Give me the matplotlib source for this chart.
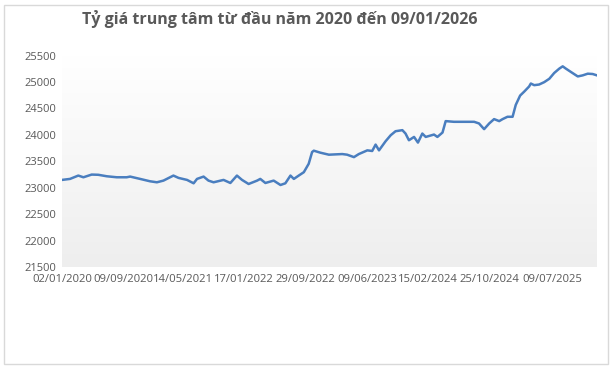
import matplotlib
matplotlib.use("Agg")
import matplotlib.pyplot as plt
from matplotlib.patches import Rectangle
from matplotlib.colors import LinearSegmentedColormap
import numpy as np
import pandas as pd

plt.rcParams['font.family'] = ['Open Sans', 'DejaVu Sans']

title = "Tỷ giá trung tâm từ đầu năm 2020 đến 09/01/2026"

dates = [
    "2020-01-02", "2020-02-04", "2020-03-09", "2020-03-30", "2020-05-03", "2020-05-30",
    "2020-07-04", "2020-08-14", "2020-09-24", "2020-10-08", "2020-11-18", "2020-12-29",
    "2021-01-26", "2021-02-22", "2021-04-04", "2021-04-25", "2021-05-30", "2021-06-26",
    "2021-07-10", "2021-08-06", "2021-08-26", "2021-09-16", "2021-10-27", "2021-11-24",
    "2021-12-21", "2022-01-11", "2022-02-07", "2022-03-14", "2022-03-27", "2022-04-17",
    "2022-05-21", "2022-06-18", "2022-07-08", "2022-07-29", "2022-08-12", "2022-09-01",
    "2022-09-22", "2022-10-12", "2022-10-26", "2022-11-02", "2022-11-29", "2023-01-03",
    "2023-02-27", "2023-03-19", "2023-04-16", "2023-05-06", "2023-06-10", "2023-06-30",
    "2023-07-14", "2023-07-28", "2023-08-24", "2023-09-14", "2023-10-04", "2023-11-01",
    "2023-11-14", "2023-11-28", "2023-12-19", "2024-01-04", "2024-01-22", "2024-02-05",
    "2024-03-10", "2024-03-24", "2024-04-14", "2024-04-27", "2024-05-31", "2024-07-12",
    "2024-08-22", "2024-09-11", "2024-10-02", "2024-10-23", "2024-11-12", "2024-12-03",
    "2024-12-17", "2025-01-06", "2025-01-27", "2025-02-09", "2025-02-27", "2025-03-16",
    "2025-04-05", "2025-04-12", "2025-04-26", "2025-05-16", "2025-06-06", "2025-06-27",
    "2025-07-17", "2025-08-07", "2025-08-21", "2025-09-03", "2025-09-24", "2025-10-22",
    "2025-11-11", "2025-12-02", "2025-12-22", "2026-01-09",
]

rates = [
    23147, 23166, 23229, 23197, 23248, 23244,
    23216, 23197, 23197, 23210, 23166, 23121,
    23102, 23134, 23229, 23185, 23147, 23083,
    23166, 23210, 23134, 23102, 23147, 23089,
    23229, 23147, 23070, 23134, 23166, 23089,
    23134, 23051, 23083, 23229, 23166, 23229,
    23293, 23452, 23674, 23700, 23662, 23624,
    23636, 23624, 23578, 23636, 23706, 23694,
    23815, 23706, 23878, 23992, 24068, 24088,
    24024, 23897, 23960, 23853, 24024, 23960,
    24005, 23960, 24043, 24259, 24246, 24246,
    24246, 24215, 24107, 24215, 24297, 24259,
    24297, 24341, 24341, 24565, 24742, 24818,
    24914, 24970, 24939, 24951, 24996, 25060,
    25169, 25252, 25295, 25252, 25188, 25104,
    25124, 25156, 25150, 25124,
]

tick_dates = ["2020-01-02", "2020-09-09", "2021-05-14", "2022-01-17", "2022-09-29",
              "2023-06-09", "2024-02-15", "2024-10-25", "2025-07-09"]
tick_labels = ["02/01/2020", "09/09/2020", "14/05/2021", "17/01/2022", "29/09/2022",
               "09/06/2023", "15/02/2024", "25/10/2024", "09/07/2025"]
y_ticks = [21500, 22000, 22500, 23000, 23500, 24000, 24500, 25000, 25500]

W, H = 612, 369
fig = plt.figure(figsize=(W / 100, H / 100), dpi=100)
fig.patch.set_facecolor("white")

# outer chart border
fig.patches.append(Rectangle((4 / W, 5 / H), 604 / W, 359 / H, transform=fig.transFigure,
                             fill=False, edgecolor="#d9d9d9", linewidth=1.0))

ax = fig.add_axes([62 / W, (H - 267) / H, (597 - 62) / W, (267 - 55.5) / H])
ax.set_facecolor("none")

# vertical gradient background (white at top -> light grey at bottom)
grad = np.linspace(0, 1, 256).reshape(-1, 1)
cmap = LinearSegmentedColormap.from_list("g", ["#ffffff", "#eeeeee"])
ax.imshow(grad, cmap=cmap, aspect="auto", extent=[0, 1, 0, 1], origin="upper",
          transform=ax.transAxes, zorder=0)

x = pd.to_datetime(dates)
ax.plot(x, rates, color="#4a7ebf", linewidth=1.8, solid_joinstyle="round", zorder=3)

ax.set_xlim(pd.Timestamp("2020-01-02"), pd.Timestamp("2026-01-09"))
ax.set_ylim(21500, 25500)

ax.set_yticks(y_ticks)
ax.set_yticklabels([str(v) for v in y_ticks])
ax.set_xticks(pd.to_datetime(tick_dates))
ax.set_xticklabels(tick_labels)

for s in ax.spines.values():
    s.set_visible(False)
ax.tick_params(axis="both", length=0, colors="#595959")
ax.tick_params(axis="y", pad=4, labelsize=8.0)
ax.tick_params(axis="x", pad=5.0, labelsize=8.1)

fig.text(280 / W, (H - 19) / H, title, ha="center", va="center",
         fontsize=11.5, fontweight="bold", color="#595959")

fig.savefig("out.png", dpi=100)
